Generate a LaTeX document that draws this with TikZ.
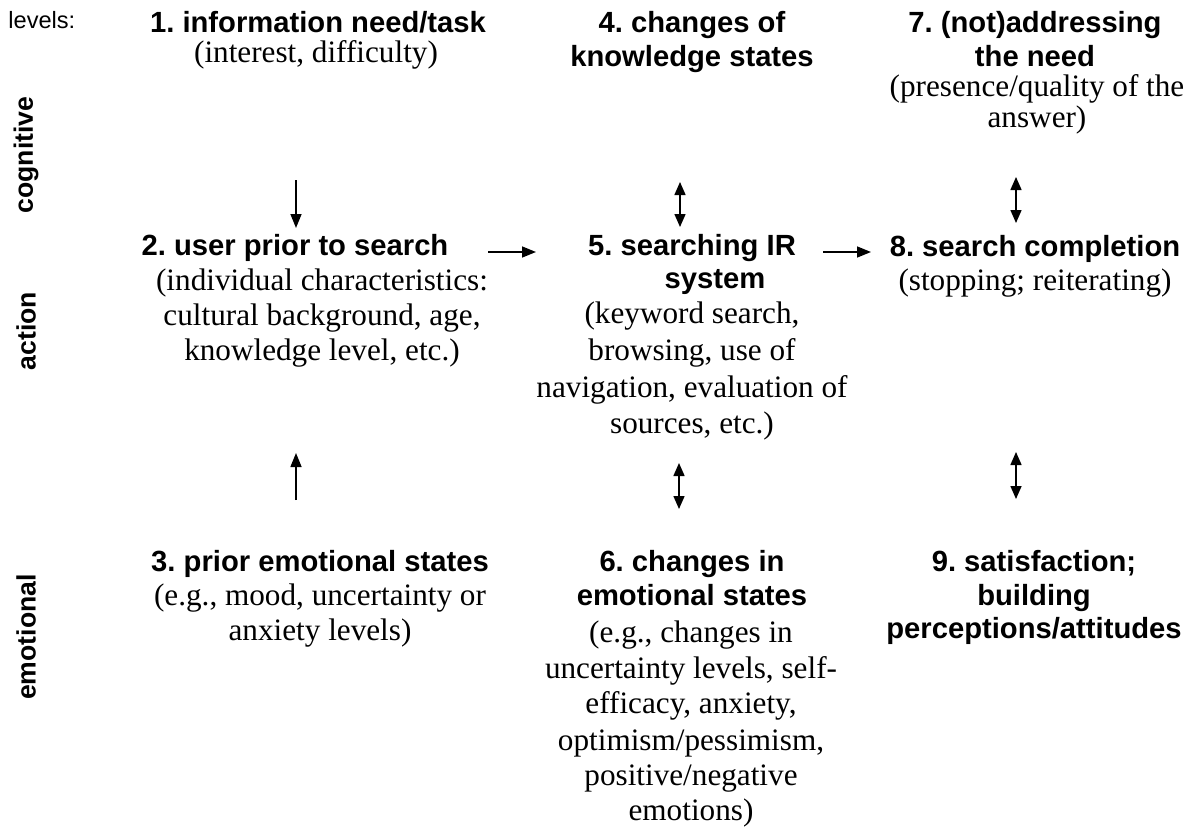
\documentclass[tikz,border=0pt]{standalone}
\usepackage{fontspec}
\setmainfont{Liberation Serif}
\setsansfont{Liberation Sans}
\usetikzlibrary{arrows.meta}
\frenchspacing
\newcommand{\blines}[1]{\begin{tabular}[t]{@{}c@{}}#1\end{tabular}}
\tikzset{
  hd/.style={inner sep=0pt, anchor=base, font=\sffamily\bfseries\fontsize{14.6}{17.5}\selectfont},
  bd/.style={inner sep=0pt, anchor=base, font=\rmfamily\fontsize{15.6}{17.5}\selectfont},
  lvl/.style={inner sep=0pt, rotate=90, font=\sffamily\bfseries\fontsize{13.3}{16}\selectfont},
  arr/.style={line width=0.75pt, -{Triangle[length=7pt,width=5.5pt]}},
  darr/.style={line width=0.75pt, {Triangle[length=6.5pt,width=5.5pt]}-{Triangle[length=6.5pt,width=5.5pt]}}
}
\begin{document}
\begin{tikzpicture}[x=0.5pt,y=-0.5pt]
\useasboundingbox (0,0) rectangle (1194,829);
\fill[white] (0,0) rectangle (1194,829);

% level labels
\node[inner sep=0pt, anchor=base west, font=\sffamily\fontsize{11.8}{14}\selectfont] (levels) at (8,29) {levels:};
\node[lvl] (cog) at (26,155) {cognitive};
\node[lvl] (act) at (26,331) {action};
\node[lvl] (emo) at (26,637) {emotional};

% column 1
\node[hd] (h1) at (318,33) {\blines{1. information need/task}};
\node[bd] (d1) at (316,63) {\blines{(interest, difficulty)}};
\node[hd] (h2) at (295,255) {\blines{2. user prior to search}};
\node[bd] (d2) at (322,290) {\blines{(individual characteristics:\\ cultural background, age,\\ knowledge level, etc.)}};
\node[hd] (h3) at (320,571) {\blines{3. prior emotional states}};
\node[bd] (d3) at (320,605) {\blines{(e.g., mood, uncertainty or\\ anxiety levels)}};

% column 2
\node[hd] (h4) at (692,33) {\blines{4. changes of\\[-0.5pt] knowledge states}};
\node[hd] (h5) at (692,255) {\blines{5. searching IR}};
\node[hd] (h5b) at (715,288) {\blines{system}};
\node[bd] (d5) at (692,323) {\blines{(keyword search,\\[1pt] browsing, use of\\[1pt] navigation, evaluation of\\[0.5pt] sources, etc.)}};
\node[hd] (h6) at (692,571) {\blines{6. changes in\\[-0.5pt] emotional states}};
\node[bd] (d6) at (691,642) {\blines{(e.g., changes in\\[0.5pt] uncertainty levels, self-\\ efficacy, anxiety,\\[1pt] optimism/pessimism,\\ positive/negative\\ emotions)}};

% column 3
\node[hd] (h7) at (1035,33) {\blines{7. (not)addressing\\[-0.5pt] the need}};
\node[bd] (d7) at (1037,97) {\blines{(presence/quality of the\\[-2pt] answer)}};
\node[hd] (h8) at (1035,256) {\blines{8. search completion}};
\node[bd] (d8) at (1035,290) {\blines{(stopping; reiterating)}};
\node[hd] (h9) at (1034,571) {\blines{9. satisfaction;\\[-0.5pt] building\\[-1pt] perceptions/attitudes}};

% arrow end points
\coordinate (a12s) at (296,180); \coordinate (a12e) at (296,228);
\coordinate (a32s) at (296,500); \coordinate (a32e) at (296,453);
\coordinate (a25s) at (488,252); \coordinate (a25e) at (536,252);
\coordinate (a58s) at (823,252); \coordinate (a58e) at (871,252);
\coordinate (d45s) at (680,182); \coordinate (d45e) at (680,227);
\coordinate (d78s) at (1016,177); \coordinate (d78e) at (1016,223);
\coordinate (d56s) at (679,463); \coordinate (d56e) at (679,509);
\coordinate (d89s) at (1016,452); \coordinate (d89e) at (1016,499);

\draw[arr] (a12s) -- (a12e);
\draw[arr] (a32s) -- (a32e);
\draw[arr] (a25s) -- (a25e);
\draw[arr] (a58s) -- (a58e);
\draw[darr] (d45s) -- (d45e);
\draw[darr] (d78s) -- (d78e);
\draw[darr] (d56s) -- (d56e);
\draw[darr] (d89s) -- (d89e);
\end{tikzpicture}
\end{document}
